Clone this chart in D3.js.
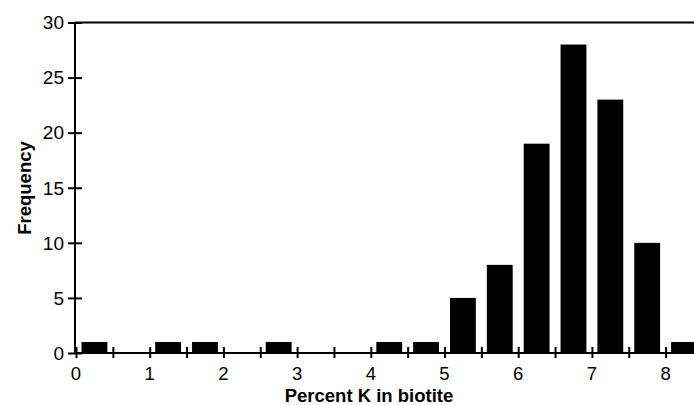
<!DOCTYPE html>
<html><head><meta charset="utf-8">
<script src="https://cdn.jsdelivr.net/npm/d3@7"></script>
<style>body{margin:0;background:#fff}svg{display:block}text{font-family:"Liberation Sans",Arial,sans-serif}</style>
</head><body><svg id="c" width="694" height="405"></svg>
<script>
const binStarts = [0,0.5,1,1.5,2,2.5,3,3.5,4,4.5,5,5.5,6,6.5,7,7.5,8];
const counts    = [1,0,1,1,0,1,0,0,1,1,5,8,19,28,23,10,1];
const binWidth = 0.5;
const xTickLabels = [0,1,2,3,4,5,6,7,8];
const yTickLabels = [0,5,10,15,20,25,30];
const xTitle = "Percent K in biotite";
const yTitle = "Frequency";

const svg = d3.select("#c");
const x0 = 76, yBase = 353, yTop = 22.5;
const x = d3.scaleLinear().domain([0, 8.5]).range([x0, x0 + 8.5*73.7]);
const y = d3.scaleLinear().domain([0, 30]).range([yBase, yTop]);

// bars
const pad = 5.5;
svg.append("g").selectAll("rect").data(binStarts).join("rect")
  .attr("x", (d) => x(d) + pad)
  .attr("width", (d) => x(d + binWidth) - x(d) - 2*pad)
  .attr("y", (d,i) => y(counts[i]))
  .attr("height", (d,i) => y(0) - y(counts[i]))
  .attr("fill", "#000");

// top frame line
svg.append("line").attr("x1", x0-1).attr("x2", 694).attr("y1", y(30)).attr("y2", y(30))
  .attr("stroke", "#000").attr("stroke-width", 2);

// x axis
const xTicks = d3.range(0, 8.51, 0.5);
const xa = svg.append("g").attr("transform", `translate(0,${yBase})`)
  .call(d3.axisBottom(x).tickValues(xTicks).tickSize(0).tickFormat(""));
xa.select(".domain").attr("stroke-width", 2).attr("d", `M${x0-1},0H694`);
xa.selectAll(".tick line").attr("y1", -6).attr("y2", 5).attr("stroke-width", 2);
xa.selectAll(".tick text").remove();
svg.append("g").selectAll("text").data(xTickLabels).join("text")
  .attr("x", (d) => x(d)).attr("y", 379.5).attr("text-anchor", "middle")
  .attr("font-size", 18.5).text((d) => d);

// y axis
const ya = svg.append("g").attr("transform", `translate(${x0-1},0)`)
  .call(d3.axisLeft(y).tickValues(yTickLabels).tickSize(0).tickFormat(""));
ya.select(".domain").attr("stroke-width", 2).attr("d", `M0,${yTop}V${yBase+1}`);
ya.selectAll(".tick line").attr("x1", -7).attr("x2", 7).attr("stroke-width", 2);
svg.append("g").selectAll("text").data(yTickLabels).join("text")
  .attr("x", 64).attr("y", (d) => y(d) + 6.8).attr("text-anchor", "end")
  .attr("font-size", 19).text((d) => d);

// titles
svg.append("text").attr("x", 369).attr("y", 402).attr("text-anchor", "middle")
  .attr("font-size", 18.5).attr("font-weight", "bold").text(xTitle);
svg.append("text").attr("transform", "translate(31,188) rotate(-90)").attr("text-anchor", "middle")
  .attr("font-size", 18.5).attr("font-weight", "bold").text(yTitle);
</script></body></html>
